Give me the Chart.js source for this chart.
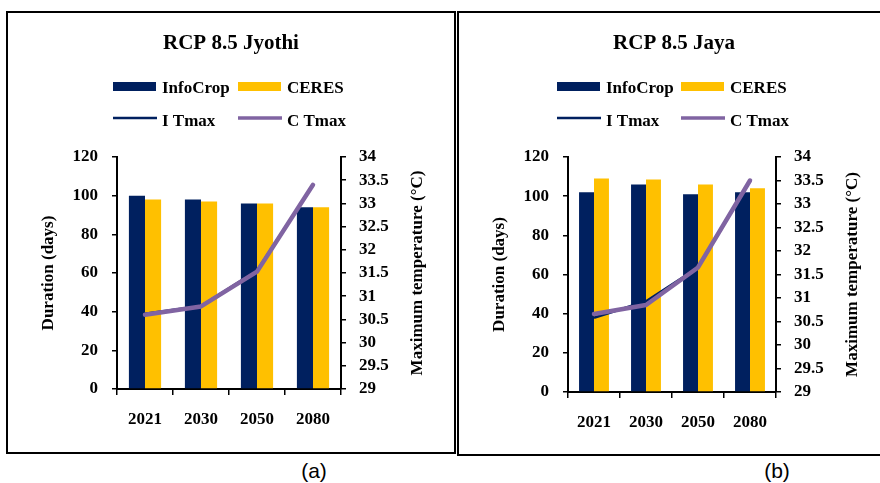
<!DOCTYPE html>
<html><head><meta charset="utf-8">
<script src="https://cdn.jsdelivr.net/npm/chart.js@4/dist/chart.umd.min.js"></script>
<style>
body{margin:0;background:#fff;width:880px;height:483px;overflow:hidden;position:relative;}
.box{position:absolute;border:2px solid #000;box-sizing:border-box;}
canvas{position:absolute;}
.cap{position:absolute;font-family:"Liberation Sans",Arial,sans-serif;font-size:21px;color:#000;line-height:21px;width:40px;text-align:center;}
</style></head>
<body>
<div class="box" style="left:6px;top:11px;width:450px;height:443px;"></div>
<div class="box" style="left:457px;top:11px;width:440px;height:445px;"></div>
<canvas id="c1" width="446" height="439" style="left:8px;top:13px;"></canvas>
<canvas id="c2" width="421" height="441" style="left:459px;top:13px;"></canvas>
<div class="cap" style="left:294px;top:460px;">(a)</div>
<div class="cap" style="left:757px;top:460px;">(b)</div>
<script>
const years = ['2021', '2030', '2050', '2080'];
const seriesNames = ['InfoCrop', 'CERES', 'I Tmax', 'C Tmax'];
const jyothiInfoCrop = [100, 98, 96, 94];
const jyothiCeres = [98, 97, 96, 94];
const jyothiITmax = [30.62, 30.79, 31.55, 33.4];
const jyothiCTmax = [30.6, 30.78, 31.53, 33.4];
const jayaInfoCrop = [102, 106, 101, 102];
const jayaCeres = [109, 108.5, 106, 104];
const jayaITmax = [30.58, 30.93, 31.65, 33.5];
const jayaCTmax = [30.66, 30.85, 31.65, 33.5];
const durationRange = [0, 120, 20];
const tempRange = [29, 34, 0.5];

const NAVY = '#00205F', GOLD = '#FFC000', PURPLE = '#8064A2';
const FONT = '"Liberation Serif","Times New Roman",serif';

const decorPlugin = {
  id: 'decor',
  afterDraw(chart, args, g) {
    const ctx = chart.ctx;
    const ds = chart.data.datasets;
    ctx.save();
    ctx.fillStyle = '#000';
    ctx.textBaseline = 'alphabetic';
    ctx.font = 'bold 21px ' + FONT;
    ctx.textAlign = 'center';
    ctx.fillText(g.title, g.titleX, 36);
    ctx.font = 'bold 17px ' + FONT;
    ctx.textAlign = 'left';
    [[0, g.s1], [1, g.s2]].forEach(([i, x]) => {
      ctx.fillStyle = ds[i].backgroundColor;
      ctx.fillRect(x, 69, 43, 9);
      ctx.fillStyle = '#000';
      ctx.fillText(ds[i].label, x + 49, 80);
    });
    [[2, g.s1], [3, g.s2]].forEach(([i, x]) => {
      ctx.strokeStyle = ds[i].borderColor;
      ctx.lineWidth = i === 2 ? 2.5 : 3.5;
      ctx.beginPath();
      ctx.moveTo(x, 105); ctx.lineTo(x + 44, 105);
      ctx.stroke();
      ctx.fillStyle = '#000';
      ctx.fillText(ds[i].label, x + 49, 113);
    });
    const a = chart.chartArea;
    ctx.translate(a.right + 77, (a.top + a.bottom) / 2);
    ctx.rotate(-Math.PI / 2);
    ctx.textAlign = 'center';
    ctx.textBaseline = 'middle';
    ctx.fillText('Maximum temperature (°C)', 0, 0);
    ctx.restore();
  }
};

function makeChart(id, ic, ce, it, ct, g) {
  const tickFont = { family: FONT, size: 17, weight: 'bold' };
  const gridOpt = { drawOnChartArea: false, drawTicks: true, tickLength: 5, color: '#000', lineWidth: 1.5 };
  const border = { color: '#000', width: 2 };
  const fmt = v => String(+Number(v).toFixed(1));
  return new Chart(document.getElementById(id), {
    type: 'bar',
    data: {
      labels: years,
      datasets: [
        { type: 'bar', label: seriesNames[0], data: ic, backgroundColor: NAVY, yAxisID: 'y', order: 3, categoryPercentage: 0.575, barPercentage: 1 },
        { type: 'bar', label: seriesNames[1], data: ce, backgroundColor: GOLD, yAxisID: 'y', order: 3, categoryPercentage: 0.575, barPercentage: 1 },
        { type: 'line', label: seriesNames[2], data: it, borderColor: NAVY, borderWidth: 2.5, pointRadius: 0, yAxisID: 'y1', order: 2, tension: 0 },
        { type: 'line', label: seriesNames[3], data: ct, borderColor: PURPLE, borderWidth: 4.5, pointRadius: 0, yAxisID: 'y1', order: 1, tension: 0, borderCapStyle: 'round', borderJoinStyle: 'round' }
      ]
    },
    options: {
      responsive: false, animation: false, devicePixelRatio: 1,
      layout: { padding: { top: 144, left: 26, right: 0, bottom: 0 } },
      plugins: { legend: { display: false }, tooltip: { enabled: false }, title: { display: false }, decor: g },
      scales: {
        x: {
          grid: Object.assign({}, gridOpt, { tickLength: 6 }), border,
          ticks: { font: tickFont, color: '#000', padding: 14, maxRotation: 0 },
          afterFit: s => { s.height = g.bottomH; }
        },
        y: {
          position: 'left', min: durationRange[0], max: durationRange[1],
          grid: gridOpt, border,
          ticks: { stepSize: durationRange[2], font: tickFont, color: '#000', padding: 14, autoSkip: false },
          title: { display: true, text: 'Duration (days)', font: tickFont, color: '#000', padding: { top: 4, bottom: 4 } },
          afterFit: s => { s.width = 83; }
        },
        y1: {
          position: 'right', min: tempRange[0], max: tempRange[1],
          grid: gridOpt, border,
          ticks: { stepSize: tempRange[2], font: tickFont, color: '#000', padding: 13, autoSkip: false, callback: fmt },
          afterFit: s => { s.width = g.rightW; }
        }
      }
    },
    plugins: [decorPlugin]
  });
}

makeChart('c1', jyothiInfoCrop, jyothiCeres, jyothiITmax, jyothiCTmax,
  { title: 'RCP 8.5 Jyothi', titleX: 223, s1: 105, s2: 230, bottomH: 63, rightW: 113 });
makeChart('c2', jayaInfoCrop, jayaCeres, jayaITmax, jayaCTmax,
  { title: 'RCP 8.5 Jaya', titleX: 215, s1: 98, s2: 222, bottomH: 62, rightW: 104 });
</script>
</body></html>
